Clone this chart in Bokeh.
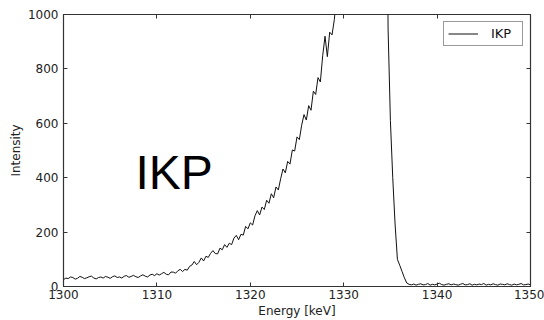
import numpy as np
from bokeh.plotting import figure
from bokeh.models import Range1d, LinearAxis, FixedTicker, Label
from bokeh.embed import file_html
from bokeh.resources import INLINE

# ---- data ----
start_energy = 1300.0
channel_width = 0.25  # keV per channel

counts_flat_left = [25, 31, 29, 35, 33, 27, 30, 37, 34, 29,
                    32, 36, 38, 31, 28, 33, 35, 31, 37, 34,
                    30, 36, 39, 33, 35, 31, 38, 40, 34, 37,
                    41, 36, 33, 39, 43, 38, 35, 42, 45, 40]
counts_rise = [47, 42, 47, 52, 45, 43, 53, 53,
               49, 58, 63, 55, 63, 60, 74, 79,
               92, 80, 89, 105, 94, 111, 107, 122,
               132, 121, 120, 141, 135, 154, 144, 159,
               154, 178, 188, 172, 192, 189, 221, 212,
               234, 226, 260, 279, 263, 292, 283, 317,
               306, 341, 326, 366, 355, 396, 432, 418,
               460, 450, 502, 498, 550, 540, 593, 632,
               612, 665, 648, 718, 706, 768, 752, 848,
               920, 845, 935, 925,
               982]
counts_peak = [1080, 1400, 1900, 2500, 3200, 3900, 4600, 5300, 6000, 6800,
               7500, 8000, 8300, 8200, 7800, 7000, 6000, 5200, 4500, 3800,
               3000, 2400]
counts_fall = [950, 610, 400, 230, 100, 78, 55, 32, 13, 8]
counts_flat_right = [6, 9, 5, 8, 10, 6, 7, 11, 5, 8,
                     6, 9, 12, 7, 5, 8, 10, 6, 9, 7,
                     5, 8, 11, 6, 7, 10, 5, 8, 6, 9,
                     7, 11, 5, 8, 6, 10, 7, 5, 9, 8,
                     6, 10, 7, 5, 9, 6, 8, 11, 6, 7,
                     9, 6]

counts = counts_flat_left + counts_rise + counts_peak + counts_fall + counts_flat_right
energies = start_energy + channel_width * np.arange(len(counts))

x_ticks = [1300, 1310, 1320, 1330, 1340, 1350]
y_ticks = [0, 200, 400, 600, 800, 1000]
series_name = "IKP"
annotation_text = "IKP"

# ---- figure ----
p = figure(width=544, height=320, output_backend="svg", toolbar_location=None,
           x_range=Range1d(1300, 1350), y_range=Range1d(0, 1000),
           min_border_left=63, min_border_right=14, min_border_top=14,
           min_border_bottom=33, background_fill_color="white",
           border_fill_color="white")
p.xgrid.visible = False
p.ygrid.visible = False
p.outline_line_color = "#333333"
p.outline_line_width = 1.2

tick_font = "DejaVu Sans"
for ax, ticks in ((p.xaxis[0], x_ticks), (p.yaxis[0], y_ticks)):
    ax.ticker = FixedTicker(ticks=ticks)
    ax.major_tick_in = 4
    ax.major_tick_out = 0
    ax.minor_tick_line_color = None
    ax.major_tick_line_color = "#333333"
    ax.axis_line_color = "#333333"
    ax.major_label_text_font = tick_font
    ax.major_label_text_font_size = "12px"
    ax.major_label_text_color = "#222222"
    ax.axis_label_text_font = tick_font
    ax.axis_label_text_font_size = "12px"
    ax.axis_label_text_font_style = "normal"
    ax.axis_label_text_color = "#222222"

p.xaxis.axis_label = "Energy [keV]"
p.yaxis.axis_label = "Intensity"
p.xaxis.major_label_standoff = 3
p.xaxis.axis_label_standoff = 2
p.yaxis.major_label_standoff = 5
p.yaxis.axis_label_standoff = 2

# mirrored tick marks on top and right (no labels)
for loc, ticks in (("above", x_ticks), ("right", y_ticks)):
    ax = LinearAxis(ticker=FixedTicker(ticks=ticks), major_tick_in=4, major_tick_out=0,
                    minor_tick_line_color=None, axis_line_color=None,
                    major_tick_line_color="#333333",
                    major_label_text_color=None, major_label_text_alpha=0,
                    major_label_text_font_size="1px", major_label_standoff=0)
    p.add_layout(ax, loc)

p.line(energies, counts, line_color="#111111", line_width=1.0, legend_label=series_name)

p.legend.location = "top_right"
p.legend.margin = 7
p.legend.padding = 4
p.legend.spacing = 0
p.legend.glyph_width = 30
p.legend.glyph_height = 15
p.legend.label_height = 15
p.legend.label_width = 27
p.legend.label_standoff = 13
p.legend.label_text_font = tick_font
p.legend.label_text_font_size = "13px"
p.legend.label_text_color = "#111111"
p.legend.border_line_color = "#333333"
p.legend.border_line_width = 1
p.legend.background_fill_alpha = 1.0

p.add_layout(Label(x=1307.7, y=420, text=annotation_text, text_font="Liberation Sans",
                   text_font_size="48px", text_color="black",
                   text_align="left", text_baseline="alphabetic"))

open("out.html", "w").write(file_html(p, INLINE))
